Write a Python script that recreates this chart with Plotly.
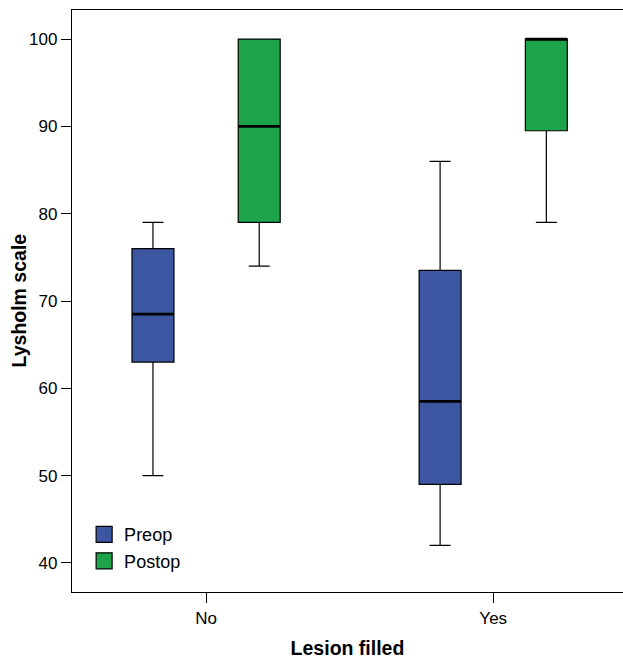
import plotly.graph_objects as go

categories = ["No", "Yes"]
preop_lower = [50, 42]
preop_q1 = [63, 49]
preop_median = [68.5, 58.5]
preop_q3 = [76, 73.5]
preop_upper = [79, 86]

postop_lower = [74, 79]
postop_q1 = [79, 89.5]
postop_median = [90, 100]
postop_q3 = [100, 100]
postop_upper = [100, 100]

y_ticks = [40, 50, 60, 70, 80, 90, 100]

blue = "#3C56A1"
green = "#1DA44A"

fig = go.Figure()
series = [
    ("Preop", "pre", blue, preop_lower, preop_q1, preop_median, preop_q3, preop_upper),
    ("Postop", "post", green, postop_lower, postop_q1, postop_median, postop_q3, postop_upper),
]
for nm, grp, col, lo, q1, med, q3, up in series:
    fig.add_trace(go.Box(
        name=nm, x=categories, q1=q1, median=med, q3=q3,
        lowerfence=lo, upperfence=up, offsetgroup=grp,
        fillcolor=col, line=dict(color="black", width=1.2), whiskerwidth=0.5,
        showlegend=False, boxpoints=False, hoverinfo="skip",
    ))
# thicker median lines
for nm, grp, col, lo, q1, med, q3, up in series:
    fig.add_trace(go.Box(
        name=nm + " median", x=categories, q1=med, median=med, q3=med,
        lowerfence=med, upperfence=med, offsetgroup=grp,
        fillcolor="rgba(0,0,0,0)", line=dict(color="black", width=2.6), whiskerwidth=0,
        showlegend=False, boxpoints=False, hoverinfo="skip",
    ))
# legend entries
for nm, grp, col, *_ in series:
    fig.add_trace(go.Scatter(
        x=[None], y=[None], mode="markers", name=nm,
        marker=dict(symbol="square", size=16, color=col, line=dict(color="black", width=1.2)),
    ))

fig.update_layout(
    width=623, height=662,
    margin=dict(l=72, r=0, t=10, b=70),
    paper_bgcolor="white", plot_bgcolor="white",
    boxmode="group", boxgap=0.26, boxgroupgap=0.605,
    font=dict(family="Liberation Sans, Arial, sans-serif", size=17, color="black"),
    showlegend=True,
    legend=dict(x=0.022, y=0.022, xanchor="left", yanchor="bottom",
                bgcolor="rgba(0,0,0,0)", font=dict(size=18), tracegroupgap=0,
                itemsizing="trace"),
    xaxis=dict(
        type="category", range=[-0.467, 1.452],
        showline=True, linecolor="black", linewidth=1.3, mirror=True,
        ticks="outside", ticklen=10, tickwidth=1.3, tickcolor="black",
        showgrid=False, zeroline=False,
        title=dict(text="<b>Lesion filled</b>", font=dict(size=19.5), standoff=14),
    ),
    yaxis=dict(
        range=[36.67, 103.33], tickvals=y_ticks,
        showline=True, linecolor="black", linewidth=1.3,
        ticks="outside", ticklen=10, tickwidth=1.3, tickcolor="black",
        showgrid=False, zeroline=False,
    ),
    annotations=[dict(
        text="<b>Lysholm scale</b>", textangle=-90, font=dict(size=19.5),
        xref="paper", yref="paper", x=0, y=0.5, xanchor="center", yanchor="middle",
        xshift=-53.5, showarrow=False,
    )],
)

fig.write_html("out.html")
